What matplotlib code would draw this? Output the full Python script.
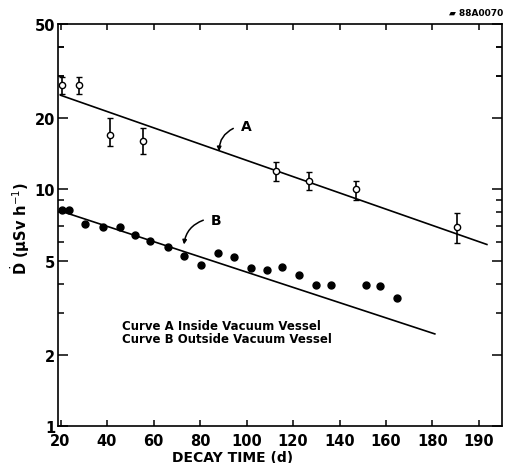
import matplotlib
matplotlib.use("Agg")
import matplotlib.pyplot as plt
from matplotlib.ticker import FixedLocator, NullFormatter

# Curve A: inside vacuum vessel (open circles with error bars)
decay_a = [20.6, 28.0, 41.3, 55.5, 112.7, 126.9, 147.0, 190.4]
dose_a = [27.6, 27.6, 17.0, 16.0, 12.0, 10.9, 10.0, 6.95]
dose_a_low = [25.3, 25.3, 15.2, 14.1, 10.9, 9.9, 9.0, 5.94]
dose_a_high = [29.8, 29.8, 20.0, 18.1, 13.1, 11.9, 10.9, 7.96]

# Curve B: outside vacuum vessel (filled circles)
decay_b = [20.6, 23.8, 30.5, 38.4, 45.6, 52.0, 58.5, 66.1, 73.1, 80.6, 87.9,
           94.8, 101.8, 108.7, 115.4, 122.7, 129.8, 136.5, 151.3, 157.5, 164.6]
dose_b = [8.15, 8.22, 7.17, 6.92, 6.96, 6.44, 6.04, 5.73, 5.21, 4.78, 5.39,
          5.17, 4.64, 4.57, 4.69, 4.36, 3.94, 3.94, 3.93, 3.92, 3.47]

# Exponential fits (straight on the log axis)
fit_a_days = [20.0, 203.4]
fit_a_dose = [25.0, 5.85]
fit_b_days = [20.0, 181.0]
fit_b_dose = [8.1, 2.45]

x_ticks = [20, 40, 60, 80, 100, 120, 140, 160, 180, 200]
x_tick_labels = ["20", "40", "60", "80", "100", "120", "140", "160", "180", "190"]
y_ticks = [1, 2, 5, 10, 20, 50]
y_tick_labels = ["1", "2", "5", "10", "20", "50"]

fig = plt.figure(figsize=(5.05, 4.64), dpi=100)
ax = fig.add_axes([58 / 505, 1 - 427 / 464, 444 / 505, 402 / 464])

ax.set_yscale("log")
ax.set_xlim(18.9, 209.9)
ax.set_ylim(1, 50)

# fitted lines
ax.plot(fit_a_days, fit_a_dose, color="black", lw=1.2)
ax.plot(fit_b_days, fit_b_dose, color="black", lw=1.2)

# data
err_low = [d - lo for d, lo in zip(dose_a, dose_a_low)]
err_high = [hi - d for d, hi in zip(dose_a, dose_a_high)]
ax.errorbar(decay_a, dose_a, yerr=[err_low, err_high], fmt="o", ms=4.5,
            mfc="white", mec="black", mew=1.0, ecolor="black", elinewidth=1.2,
            capsize=2.5, capthick=1.2, color="black", zorder=3)
ax.plot(decay_b, dose_b, "o", ms=5, color="black", zorder=3)

# curve labels with curved arrows
ax.text(99.7, 18.5, "A", fontsize=10, weight="bold", ha="center", va="center")
ax.annotate("", xy=(88.2, 14.5), xytext=(94.3, 18.1),
            arrowprops=dict(arrowstyle="-|>", connectionstyle="arc3,rad=0.3",
                            lw=1.1, color="black", shrinkA=0, shrinkB=0,
                            mutation_scale=6))
ax.text(86.8, 7.41, "B", fontsize=10, weight="bold", ha="center", va="center")
ax.annotate("", xy=(73.1, 5.85), xytext=(81.4, 7.41),
            arrowprops=dict(arrowstyle="-|>", connectionstyle="arc3,rad=0.3",
                            lw=1.1, color="black", shrinkA=0, shrinkB=0,
                            mutation_scale=6))

ax.text(0.144, 0.234,
        "Curve A Inside Vacuum Vessel\nCurve B Outside Vacuum Vessel",
        transform=ax.transAxes, fontsize=8.5, weight="bold", ha="left",
        va="center", linespacing=0.95)

# axes styling
for sp in ax.spines.values():
    sp.set_linewidth(1.2)

ax.xaxis.set_major_locator(FixedLocator(x_ticks))
ax.set_xticklabels(x_tick_labels)
ax.yaxis.set_major_locator(FixedLocator(y_ticks))
ax.set_yticklabels(y_tick_labels)
minor_y = [m * 10 ** e for e in (0, 1) for m in range(2, 10)] + [30, 40]
minor_y = [v for v in minor_y if v not in y_ticks and v < 50]
ax.yaxis.set_minor_locator(FixedLocator(minor_y))
ax.yaxis.set_minor_formatter(NullFormatter())

ax.tick_params(axis="both", which="both", direction="in", top=True, right=True,
               width=1.1, labelsize=10.5)
ax.tick_params(axis="y", which="major", length=7, pad=2)
ax.tick_params(axis="y", which="minor", length=4)
ax.tick_params(axis="x", which="major", length=4, pad=5)
for lab in ax.get_xticklabels() + ax.get_yticklabels():
    lab.set_fontweight("bold")

fig.text(233 / 505, 1 - 458 / 464, "DECAY TIME (d)", fontsize=10, weight="bold",
         ha="center", va="center")
fig.text(20 / 505, 1 - 228 / 464, r"$\dot{\mathbf{D}}$ ($\mathbf{\mu}$Sv h$^{-1}$)",
         fontsize=10.5, weight="bold", rotation=90, ha="center", va="center")
fig.text(503 / 505, 1 - 14 / 464, "\u25b0 88A0070", fontsize=6.5, weight="bold",
         ha="right", va="center")

fig.savefig("out.png", dpi=100)
